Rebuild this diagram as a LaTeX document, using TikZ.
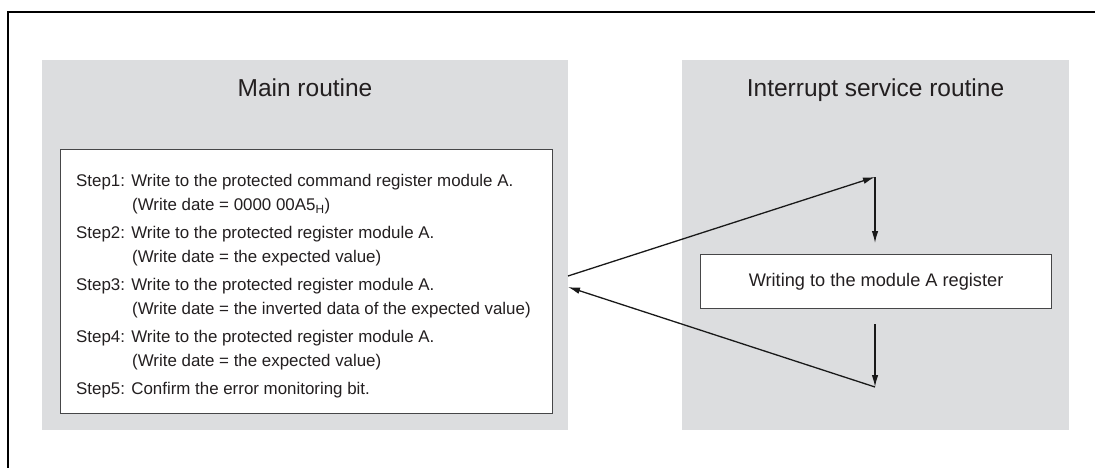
\documentclass[tikz,border=0pt]{standalone}
\usepackage{fontspec}
\setmainfont{Liberation Sans}
\usetikzlibrary{arrows.meta}
\definecolor{panelgray}{RGB}{220,221,223}
\definecolor{inkgray}{RGB}{35,31,32}
\definecolor{edgegray}{RGB}{70,70,72}

\begin{document}
\begin{tikzpicture}[x=1pt, y=-1pt, text=inkgray,
    panelbox/.style={fill=panelgray, draw=none, anchor=north west, inner sep=0pt, minimum height=370pt},
    stepbox/.style={fill=white, draw=edgegray, line width=1.1pt, anchor=north west, inner sep=0pt},
    titletext/.style={font=\fontsize{24.5}{29}\selectfont, anchor=base},
    flow/.style={draw=black!90, line width=1.3pt, -{Latex[length=12pt, width=6.5pt]}}]
    \useasboundingbox (0,0) rectangle (1095,468);

    % Outer frame, only its top and left edges are in view
    \draw[line width=2.2pt] (8,468) -- (8,12) -- (1095,12);

    % Gray panels with their titles
    \node[panelbox, minimum width=526pt] (mainpanel) at (42,60) {};
    \node[panelbox, minimum width=387pt] (isrpanel) at (682,60) {};
    \node[titletext] (maintitle) at (305,97) {Main routine};
    \node[titletext] (isrtitle) at (875.5,97) {Interrupt service routine};

    % Step list of the main routine
    \node[stepbox, minimum width=492pt, minimum height=264pt] (stepframe) at (59.5,149) {};
    \node[anchor=north west, inner sep=0pt, align=left, font=\fontsize{16.9}{24.5}\selectfont] (steptext) at (76,174) {%
Step1: Write to the protected command register module A.\\
\hspace*{56pt}(Write date = 0000 00A5\textsubscript{H})\\[3pt]
Step2: Write to the protected register module A.\\
\hspace*{56pt}(Write date = the expected value)\\[3pt]
Step3: Write to the protected register module A.\\
\hspace*{56pt}(Write date = the inverted data of the expected value)\\[3pt]
Step4: Write to the protected register module A.\\
\hspace*{56pt}(Write date = the expected value)\\[3pt]
Step5: Confirm the error monitoring bit.
    };

    % Register write in the interrupt service routine
    \node[stepbox, minimum width=351pt, minimum height=54pt] (modbox) at (700,254) {};
    \node[font=\fontsize{18.2}{22}\selectfont] (modtext) at (modbox.center) {Writing to the module A register};

    % Jump into the interrupt and back
    \coordinate (outpt) at (568,276);
    \coordinate (inpt) at (568,287);
    \coordinate (topturn) at (875,177);
    \coordinate (botturn) at (875,387);
    \draw[flow] (outpt) -- (topturn);
    \draw[flow, shorten >=11pt] (topturn) -- (topturn |- modbox.north);
    \draw[flow, shorten <=15pt] (topturn |- modbox.south) -- (botturn);
    \draw[flow] (botturn) -- (inpt);
\end{tikzpicture}
\end{document}
